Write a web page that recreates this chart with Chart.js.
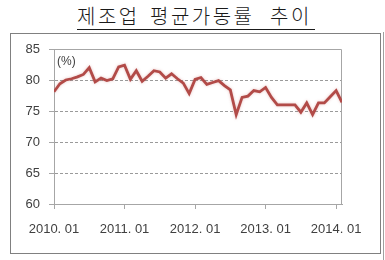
<!DOCTYPE html>
<html>
<head>
<meta charset="utf-8">
<script src="https://cdn.jsdelivr.net/npm/chart.js@4"></script>
<style>
body{margin:0;background:#fff;}
#wrap{position:relative;width:385px;height:260px;overflow:hidden;}
#title{position:absolute;left:77px;top:5px;width:238px;height:24px;border-bottom:1px solid #1a1a1a;font-family:"Noto Sans CJK KR";font-size:20px;line-height:22px;color:#1a1a1a;font-weight:300;white-space:nowrap;}
#title span{position:absolute;top:0;letter-spacing:2.5px;}
#box{position:absolute;left:10px;top:33px;width:369px;height:219px;border:1px solid #808080;}
#edge{position:absolute;left:383px;top:32px;width:1px;height:228px;background:#a0a0a0;}
canvas{position:absolute;left:0;top:0;}
</style>
</head>
<body>
<div id="wrap">
  <div id="title"><span style="left:0px">제조업</span> <span style="left:73px">평균가동률</span> <span style="left:193px">추이</span></div>
  <div id="box"></div>
  <div id="edge"></div>
  <canvas id="rate-chart" width="385" height="260"></canvas>
</div>
<script>
"use strict";
// monthly values, 2010.01 .. 2014.02
var rate = [78.1, 79.4, 80.0, 80.2, 80.5, 80.9, 82.0, 79.7, 80.3, 79.9,
            80.2, 82.1, 82.4, 80.1, 81.5, 79.8, 80.6, 81.5, 81.3, 80.3,
            81.0, 80.2, 79.5, 77.8, 80.1, 80.4, 79.3, 79.6, 79.9, 79.1,
            78.4, 74.4, 77.2, 77.4, 78.3, 78.1, 78.8, 77.2, 76.0, 76.0,
            76.0, 76.0, 74.8, 76.3, 74.4, 76.3, 76.3, 77.3, 78.3, 76.4];
var tickMonths = [0, 12, 24, 36, 48];
var tickLabels = ["2010. 01", "2011. 01", "2012. 01", "2013. 01", "2014. 01"];
var yTicks = [60, 65, 70, 75, 80, 85];

var axisGray = '#a6a6a6';
var textGray = '#404040';

var frame = {
	id: 'frame',
	beforeDatasetsDraw: function(chart){
		var ctx = chart.ctx, a = chart.chartArea;
		var t = Math.round(a.top) + 0.5, r = Math.round(a.right) - 0.5;
		ctx.save();
		ctx.strokeStyle = axisGray;
		ctx.lineWidth = 1;
		ctx.beginPath();
		ctx.moveTo(a.left, t);
		ctx.lineTo(r, t);
		ctx.lineTo(r, a.bottom);
		ctx.stroke();
		ctx.fillStyle = textGray;
		ctx.font = '12px "Liberation Sans"';
		ctx.textBaseline = 'middle';
		ctx.fillText('(%)', a.left + 3, a.top + 13);
		ctx.shadowColor = 'rgba(190, 80, 77, 0.35)';
		ctx.shadowBlur = 3;
	},
	afterDatasetsDraw: function(chart){
		chart.ctx.restore();
	}
};

var ctx = document.getElementById("rate-chart");
var rateChart = new Chart(ctx, {
	type: 'line',
	data: {
		datasets: [{
			data: rate.map(function(v, i){ return {x: i, y: v}; }),
			borderColor: '#b24b48',
			borderWidth: 2.8,
			pointRadius: 0,
			tension: 0,
			fill: false
		}]
	},
	options: {
		responsive: false,
		animation: false,
		layout: { padding: { left: 0, right: 43, top: 49, bottom: 0 } },
		plugins: { legend: { display: false }, tooltip: { enabled: false } },
		scales: {
			x: {
				type: 'linear',
				min: 0,
				max: rate.length - 1,
				afterFit: function(s){ s.height = 56; },
				afterBuildTicks: function(s){ s.ticks = tickMonths.map(function(v){ return {value: v}; }); },
				ticks: {
					autoSkip: false,
					maxRotation: 0,
					padding: 13,
					color: textGray,
					font: { family: 'Liberation Sans', size: 13 },
					callback: function(v){ return tickLabels[tickMonths.indexOf(v)]; }
				},
				grid: { drawOnChartArea: false, tickLength: 5, tickColor: axisGray },
				border: { color: axisGray }
			},
			y: {
				min: 60,
				max: 85,
				afterFit: function(s){ s.width = 54; },
				afterBuildTicks: function(s){ s.ticks = yTicks.map(function(v){ return {value: v}; }); },
				ticks: {
					padding: 9,
					color: textGray,
					font: { family: 'Liberation Sans', size: 13 }
				},
				grid: {
					color: function(c){ return (c.tick && (c.tick.value === 60 || c.tick.value === 85)) ? 'rgba(0,0,0,0)' : '#9a9a9a'; },
					tickLength: 5,
					tickColor: axisGray
				},
				border: { color: axisGray, dash: [3, 2] }
			}
		}
	},
	plugins: [frame]
});
</script>
</body>
</html>
